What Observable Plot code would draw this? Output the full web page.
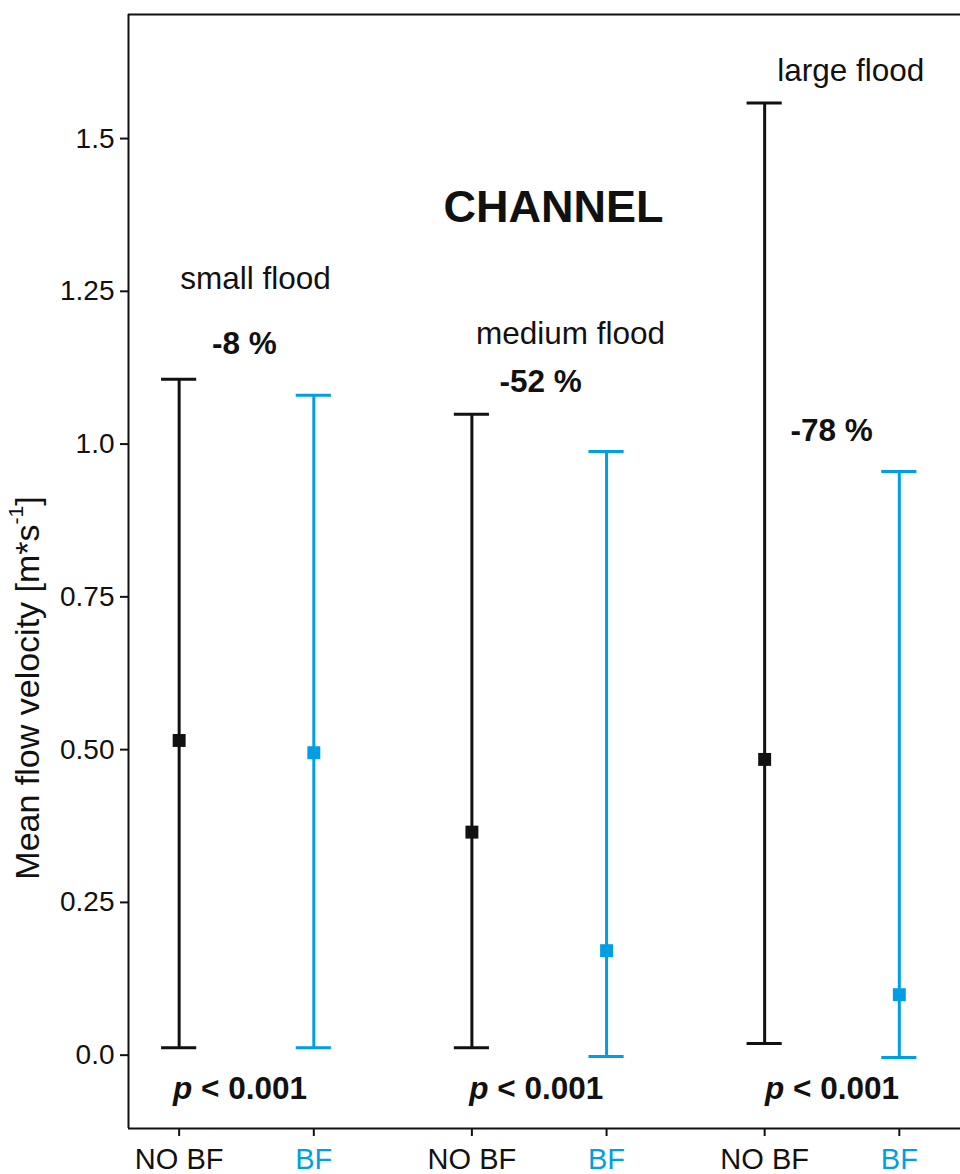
<!DOCTYPE html>
<html>
<head>
<meta charset="utf-8">
<script src="https://cdn.jsdelivr.net/npm/d3@7"></script>
<script src="https://cdn.jsdelivr.net/npm/@observablehq/plot@0.6"></script>
<style>
  html, body { margin: 0; padding: 0; background: #fff; overflow: hidden; }
  #chart svg { display: block; }
</style>
</head>
<body>
<div id="chart"></div>
<script>
// ---- data ----
const floods = ["small flood", "medium flood", "large flood"];
const treatments = ["NO BF", "BF"];
const meanNoBF = [0.515, 0.365, 0.484];
const lowNoBF  = [0.012, 0.012, 0.019];
const highNoBF = [1.106, 1.049, 1.558];
const meanBF   = [0.495, 0.171, 0.099];
const lowBF    = [0.012, -0.002, -0.004];
const highBF   = [1.080, 0.988, 0.955];
const changeLabels = ["-8 %", "-52 %", "-78 %"];
const pValueLabels = ["< 0.001", "< 0.001", "< 0.001"];
const yTicks = [0, 0.25, 0.5, 0.75, 1, 1.25, 1.5];
const yTickLabels = ["0.0", "0.25", "0.50", "0.75", "1.0", "1.25", "1.5"];
const panelTitle = "CHANNEL";

// ---- layout (not data) ----
const BLUE = "#009FE3";
const INK = "#111";
const FONT = "'Liberation Sans', Arial, Helvetica, sans-serif";
const xDomain = [0.597, 3.439];
const yDomain = [-0.120, 1.703];
const dodge = 0.23;
const capHalf = 0.06;
// annotation anchors in data coordinates
const floodLabelPos = [[1.031, 1.271], [2.107, 1.181], [3.064, 1.611]];
const changeLabelPos = [[0.993, 1.1645], [2.005, 1.102], [2.999, 1.022]];
const pLabelX = [0.978, 1.99, 3.0];
const pLabelY = -0.055;
const titlePos = [2.049, 1.387];

const rows = [];
floods.forEach((f, i) => {
  rows.push({flood: f, treatment: "NO BF", x: i + 1 - dodge, mean: meanNoBF[i], lo: lowNoBF[i], hi: highNoBF[i]});
  rows.push({flood: f, treatment: "BF", x: i + 1 + dodge, mean: meanBF[i], lo: lowBF[i], hi: highBF[i]});
});
const colorOf = d => d.treatment === "BF" ? BLUE : INK;
const caps = rows.flatMap(d => [{...d, y: d.hi}, {...d, y: d.lo}]);

const floodAnn = floods.map((f, i) => ({text: f, x: floodLabelPos[i][0], y: floodLabelPos[i][1]}));
const changeAnn = changeLabels.map((t, i) => ({text: t, x: changeLabelPos[i][0], y: changeLabelPos[i][1]}));
const pAnn = pValueLabels.map((t, i) => ({text: t, x: pLabelX[i], y: pLabelY}));

const noBfTicks = rows.filter(d => d.treatment === "NO BF").map(d => d.x);
const bfTicks = rows.filter(d => d.treatment === "BF").map(d => d.x);

const chart = Plot.plot({
  width: 960,
  height: 1174,
  marginLeft: 128,
  marginRight: 0,
  marginTop: 14,
  marginBottom: 46,
  style: {fontFamily: FONT, background: "#fff"},
  x: {domain: xDomain, axis: null},
  y: {domain: yDomain, axis: null},
  marks: [
    // frame (left, top, bottom)
    Plot.ruleX([xDomain[0]], {stroke: INK, strokeWidth: 2}),
    Plot.ruleY(yDomain, {stroke: INK, strokeWidth: 2}),
    // axes
    Plot.axisY({ticks: yTicks, tickFormat: (d) => yTickLabels[yTicks.indexOf(d)], tickSize: 8, tickPadding: 6,
      fontSize: 28, fill: INK, stroke: INK, strokeWidth: 2, label: null}),
    Plot.axisX({ticks: noBfTicks, tickFormat: () => treatments[0], tickSize: 8, tickPadding: 12,
      fontSize: 29, fill: INK, stroke: INK, strokeWidth: 2, label: null}),
    Plot.axisX({ticks: bfTicks, tickFormat: () => treatments[1], tickSize: 8, tickPadding: 12,
      fontSize: 29, fill: BLUE, stroke: INK, strokeWidth: 2, label: null}),
    // error bars
    Plot.ruleX(rows, {x: "x", y1: "lo", y2: "hi", stroke: colorOf, strokeWidth: 3}),
    Plot.ruleY(caps, {y: "y", x1: d => d.x - capHalf, x2: d => d.x + capHalf, stroke: colorOf, strokeWidth: 3}),
    Plot.dot(rows, {x: "x", y: "mean", symbol: "square", r: 7.3, fill: colorOf, stroke: "none"}),
    // annotations
    Plot.text([panelTitle], {x: titlePos[0], y: titlePos[1], text: d => d, fontSize: 45, fontWeight: "bold", fill: INK}),
    Plot.text(floodAnn, {x: "x", y: "y", text: "text", fontSize: 31.5, fill: INK}),
    Plot.text(changeAnn, {x: "x", y: "y", text: "text", fontSize: 31.5, fontWeight: "bold", fill: INK}),
    Plot.text(pAnn, {x: "x", y: "y", text: () => "p", textAnchor: "start", dx: -67, fontSize: 31.5, fontWeight: "bold", fontStyle: "italic", fill: INK}),
    Plot.text(pAnn, {x: "x", y: "y", text: "text", textAnchor: "start", dx: -39, fontSize: 31.5, fontWeight: "bold", fill: INK})
  ]
});

document.getElementById("chart").appendChild(chart);

// y-axis title with superscript
const svg = d3.select(chart);
const ylab = svg.append("text")
  .attr("transform", "translate(30,688) rotate(-90)")
  .attr("text-anchor", "middle")
  .attr("dominant-baseline", "middle")
  .attr("font-family", FONT)
  .attr("font-size", 34)
  .attr("fill", INK);
ylab.append("tspan").text("Mean flow velocity [m*s");
ylab.append("tspan").attr("font-size", 21).attr("dy", -13).text("-1");
ylab.append("tspan").attr("dy", 13).text("]");
</script>
</body>
</html>
